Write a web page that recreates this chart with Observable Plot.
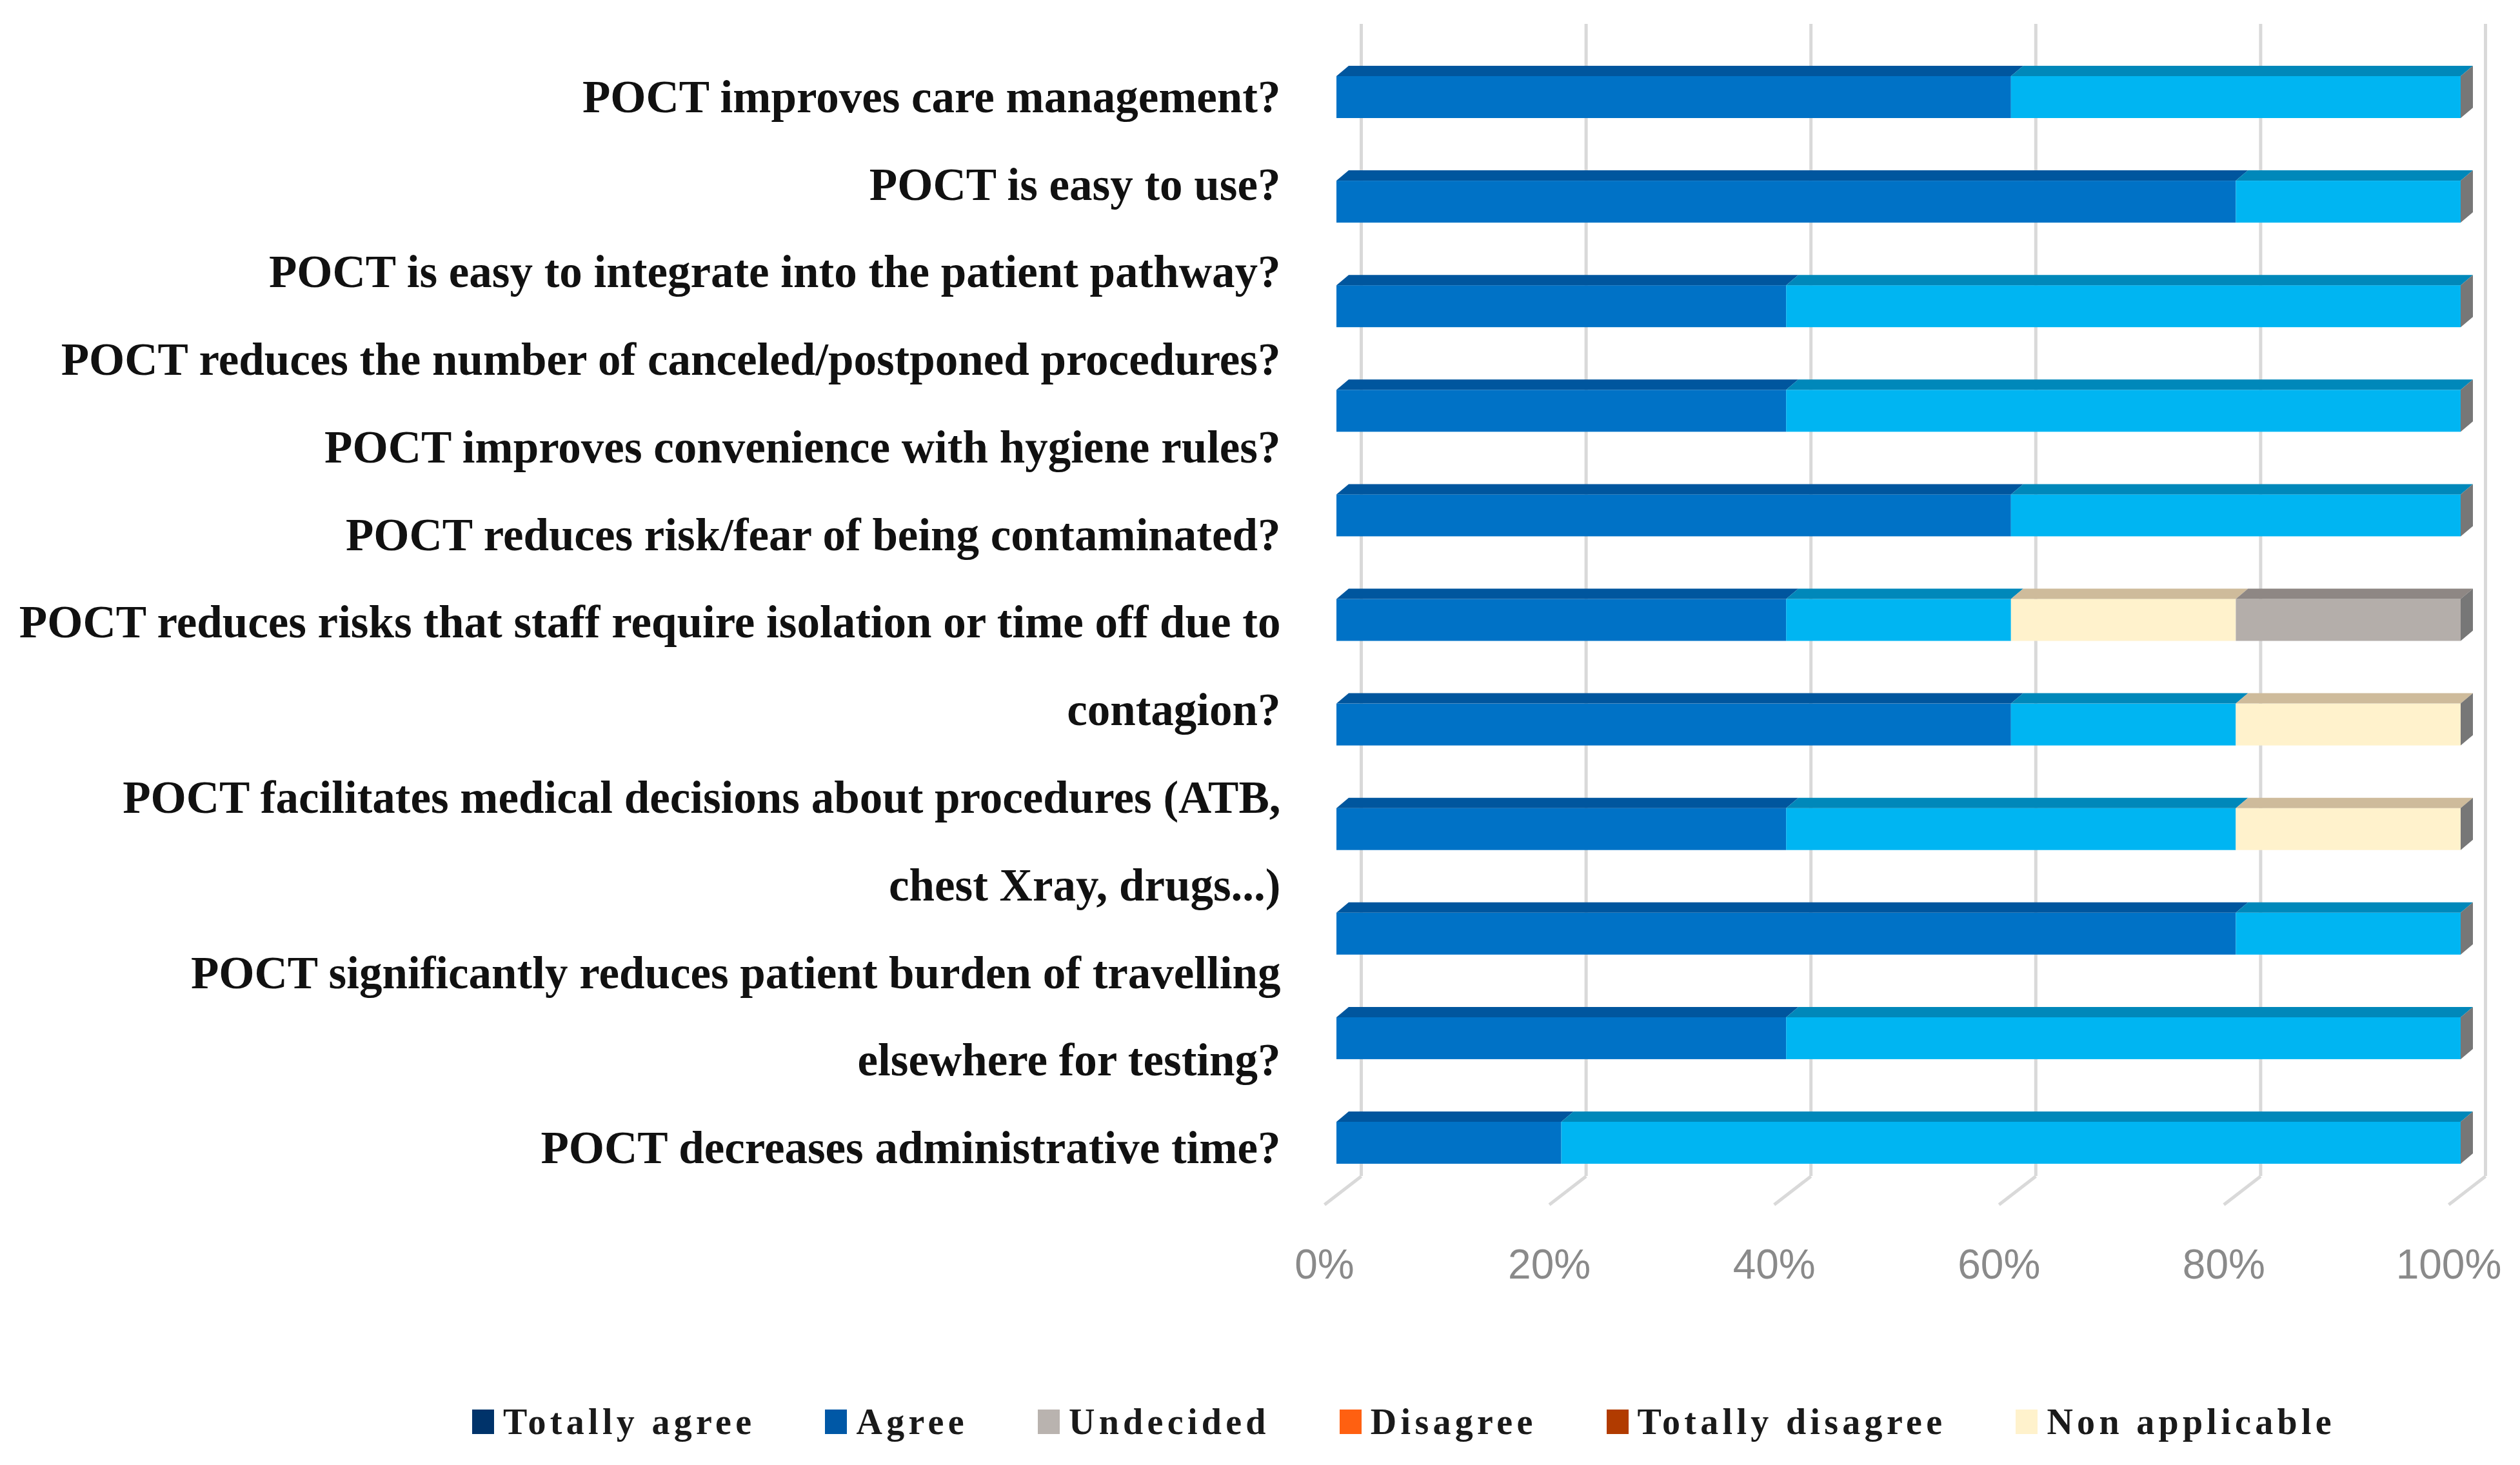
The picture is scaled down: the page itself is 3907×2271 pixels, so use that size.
<!DOCTYPE html>
<html><head><meta charset="utf-8">
<script src="https://cdn.jsdelivr.net/npm/d3@7"></script>
<script src="https://cdn.jsdelivr.net/npm/@observablehq/plot@0.6"></script>
<style>
html,body{margin:0;padding:0;background:#fff;width:3907px;height:2271px;overflow:hidden}
#legend{display:flex;align-items:center;height:108px;padding-left:732px;font-family:"Liberation Serif",serif;font-weight:bold;font-size:56px;letter-spacing:6.3px;color:#1a1a1a;white-space:nowrap}
.item{display:flex;align-items:center;margin-right:108px}
.sw{width:34px;height:38px;margin-right:14px;flex:none}
</style></head><body><div id="chart"></div><div id="legend"></div>
<script>
// ---- data ----
const labelLines = [
  "POCT improves care management?",
  "POCT is easy to use?",
  "POCT is easy to integrate into the patient pathway?",
  "POCT reduces the number of canceled/postponed procedures?",
  "POCT improves convenience with hygiene rules?",
  "POCT reduces risk/fear of being contaminated?",
  "POCT reduces risks that staff require isolation or time off due to",
  "contagion?",
  "POCT facilitates medical decisions about procedures (ATB,",
  "chest Xray, drugs...)",
  "POCT significantly reduces patient burden of travelling",
  "elsewhere for testing?",
  "POCT decreases administrative time?"
];
// bars, top to bottom (percent)
const totallyAgree  = [60, 80, 40, 40, 60, 40, 60, 40, 80, 40, 20];
const agree         = [40, 20, 60, 60, 40, 20, 20, 40, 20, 60, 80];
const nonApplicable = [ 0,  0,  0,  0,  0, 20, 20, 20,  0,  0,  0];
const undecided     = [ 0,  0,  0,  0,  0, 20,  0,  0,  0,  0,  0];
const seriesNames = ["Totally agree", "Agree", "Non applicable", "Undecided"];
const frontColors = ["#0072C6", "#00B5F2", "#FFF2CC", "#B4AEAA"];
const topColors   = ["#00569E", "#0088BA", "#CEBB9B", "#8E8784"];
const sideColor = "#777777";
const xTicks = [0, 20, 40, 60, 80, 100];
const legendNames  = ["Totally agree", "Agree", "Undecided", "Disagree", "Totally disagree", "Non applicable"];
const legendColors = ["#00336A", "#0058A6", "#B9B3AF", "#FF6011", "#B13B00", "#FFF2CC"];

// ---- layout (pixels) ----
const W = 3907, H = 2150;
const X0 = 2072, X1 = 3815;      // bar front face 0% .. 100%
const Y0 = 150.5, YN = 1771.5;   // first .. last bar centre
const nBars = totallyAgree.length;
const pxX = (X1 - X0) / 100, pxY = (YN - Y0) / (nBars - 1);
const rowAt = px => (px - Y0) / pxY;
const HF = 32.5 / pxY;          // half front height
const BX = 19 / pxX, BY = 16 / pxY; // bar depth
const WX = 38 / pxX;            // back wall offset
const FX = 19 / pxX;            // floor front offset
const labelSpan = rowAt(1780);   // category label block height

// ---- tables ----
const seriesValues = [totallyAgree, agree, nonApplicable, undecided];
const segments = [];
const totals = [];
totallyAgree.forEach((_, r) => {
  let acc = 0;
  seriesValues.forEach((vals, s) => {
    const v = vals[r];
    if (v > 0) segments.push({row: r, s, name: seriesNames[s], x1: acc, x2: acc + v});
    acc += v;
  });
  totals.push({row: r, total: acc});
});
const topPts = segments.flatMap((d, i) => [
  {id: i, s: d.s, y: d.row - HF, x1: d.x1, x2: d.x2},
  {id: i, s: d.s, y: d.row - HF - BY, x1: d.x1 + BX, x2: d.x2 + BX}
]);
const sidePts = totals.flatMap(d => [
  {id: d.row, x: d.total, y1: d.row + HF, y2: d.row - HF},
  {id: d.row, x: d.total + BX, y1: d.row + HF - BY, y2: d.row - HF - BY}
]);

const chart = Plot.plot({
  width: W, height: H,
  marginLeft: 0, marginRight: 0, marginTop: 0, marginBottom: 0,
  x: {domain: [0, 100], range: [X0, X1], axis: null},
  y: {domain: [0, nBars - 1], range: [Y0, YN], axis: null},
  color: {type: "identity"},
  style: {background: "#fff"},
  marks: [
    Plot.ruleX(xTicks, {x: d => d + WX, y1: rowAt(37), y2: rowAt(1823), stroke: "#d9d9d9", strokeWidth: 5}),
    Plot.link(xTicks, {x1: d => d + WX, y1: rowAt(1823), x2: d => d - FX, y2: rowAt(1867), stroke: "#d9d9d9", strokeWidth: 5}),
    Plot.rect(segments, {x1: "x1", x2: "x2", y1: d => d.row - HF, y2: d => d.row + HF, fill: d => frontColors[d.s]}),
    Plot.areaX(topPts, {y: "y", x1: "x1", x2: "x2", z: "id", fill: d => topColors[d.s]}),
    Plot.areaY(sidePts, {x: "x", y1: "y1", y2: "y2", z: "id", fill: sideColor}),
    Plot.text(xTicks, {x: d => d - FX, y: rowAt(1961), text: d => d + "%", fontSize: 64, fill: "#8a8a8a", fontFamily: "Liberation Sans"}),
    Plot.text(labelLines, {x: 0, y: (d, i) => i * labelSpan / (labelLines.length - 1), text: d => d, dx: -87,
      textAnchor: "end", fontSize: 71, fontWeight: "bold", fontFamily: "Liberation Serif", fill: "#111"})
  ]
});
document.getElementById("chart").appendChild(chart);

const legend = document.getElementById("legend");
legendNames.forEach((name, i) => {
  const it = document.createElement("div");
  it.className = "item";
  const sw = document.createElement("span");
  sw.className = "sw";
  sw.style.background = legendColors[i];
  const tx = document.createElement("span");
  tx.textContent = name;
  it.appendChild(sw); it.appendChild(tx);
  legend.appendChild(it);
});
</script></body></html>
